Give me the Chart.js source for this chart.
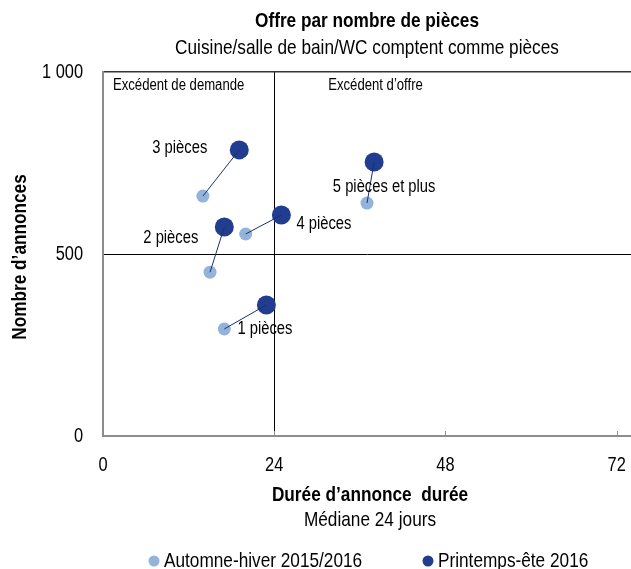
<!DOCTYPE html>
<html>
<head>
<meta charset="utf-8">
<script src="https://cdn.jsdelivr.net/npm/chart.js@4.4.1/dist/chart.umd.min.js"></script>
<style>
  html, body { margin: 0; padding: 0; background: #fff; overflow: hidden; }
  canvas { display: block; }
</style>
</head>
<body>
<canvas id="roomsChart" width="631" height="569"></canvas>
<script>
// data
const categories = ['1 pièces', '2 pièces', '3 pièces', '4 pièces', '5 pièces et plus'];
const autumnDays = [17.0, 15.0, 14.0, 20.0, 37.0];
const autumnAds = [294, 450, 659, 555, 640];
const springDays = [22.9, 17.0, 19.1, 25.0, 38.0];
const springAds = [360, 574, 786, 607, 753];
const xTicks = [0, 24, 48, 72];
const yTicks = [0, 500, 1000];
const yTickLabels = ['0', '500', '1 000'];
const seriesNames = ['Automne-hiver 2015/2016', 'Printemps-ête 2016'];
const medianDays = 24;
const medianAds = 500;

// no Arial Narrow here, so squeeze Liberation Sans (same metrics as Arial)
const FONT = '"Liberation Sans", Arial, sans-serif';
const NARROW = 0.82;
const lightBlue = '#93b3da';
const darkBlue = '#213d8f';

// label placement around the spring/summer point: [dx, dy, align]
const labelOffsets = [
    [-29, 24, 'left'],
    [-26, 11, 'right'],
    [-32, -2, 'right'],
    [15, 9, 'left'],
    [10, 25, 'center']
];

const toPoints = (xs, ys) => xs.map((v, i) => ({ x: v, y: ys[i] }));

const connectors = categories.map((c, i) => ({
    type: 'line',
    label: 'link-' + i,
    data: [{ x: autumnDays[i], y: autumnAds[i] }, { x: springDays[i], y: springAds[i] }],
    borderColor: '#1b2f6e',
    borderWidth: 1,
    pointRadius: 0,
    fill: false,
    order: 0
}));

function narrowText(ctx, text, x, y, font, align) {
    ctx.save();
    ctx.translate(x, y);
    ctx.scale(NARROW, 1);
    ctx.font = font;
    ctx.textAlign = align || 'left';
    ctx.fillText(text, 0, 0);
    ctx.restore();
}

const textPlugin = {
    id: 'texts',
    afterDraw(chart) {
        const { ctx, chartArea: a, scales: { x, y } } = chart;
        const cx = (a.left + a.right) / 2;
        ctx.save();
        ctx.fillStyle = '#000';
        ctx.textBaseline = 'middle';

        // titles
        narrowText(ctx, 'Offre par nombre de pièces', cx, 21, 'bold 21px ' + FONT, 'center');
        narrowText(ctx, 'Cuisine/salle de bain/WC comptent comme pièces', cx, 48, '21px ' + FONT, 'center');

        // tick labels
        xTicks.forEach(v => {
            narrowText(ctx, String(v), x.getPixelForValue(v), a.bottom + 29, '20px ' + FONT, 'center');
        });
        yTicks.forEach((v, i) => {
            narrowText(ctx, yTickLabels[i], a.left - 20, y.getPixelForValue(v), '20px ' + FONT, 'right');
        });

        // axis titles
        narrowText(ctx, 'Durée d\u2019annonce  durée', cx + 3, 495, 'bold 21px ' + FONT, 'center');
        narrowText(ctx, 'Médiane 24 jours', cx + 3, 520, '21px ' + FONT, 'center');
        ctx.save();
        ctx.translate(20, 257);
        ctx.rotate(-Math.PI / 2);
        narrowText(ctx, 'Nombre d\u2019annonces', 0, 0, 'bold 21px ' + FONT, 'center');
        ctx.restore();

        // quadrant labels
        narrowText(ctx, 'Excédent de demande', a.left + 10, 86, '16px ' + FONT, 'left');
        narrowText(ctx, 'Excédent d\u2019offre', x.getPixelForValue(medianDays) + 54, 86, '16px ' + FONT, 'left');

        // point labels
        categories.forEach((c, i) => {
            const [dx, dy, align] = labelOffsets[i];
            narrowText(ctx, c, x.getPixelForValue(springDays[i]) + dx, y.getPixelForValue(springAds[i]) + dy,
                '18px ' + FONT, align);
        });

        // small inward ticks on the x axis
        ctx.strokeStyle = '#8c8c8c';
        ctx.lineWidth = 1;
        xTicks.slice(1).forEach(v => {
            const px = Math.round(x.getPixelForValue(v)) + 0.5;
            ctx.beginPath();
            ctx.moveTo(px, a.bottom);
            ctx.lineTo(px, a.bottom - 5);
            ctx.stroke();
        });

        // legend
        const legendX = [154, 428];
        [lightBlue, darkBlue].forEach((col, i) => {
            ctx.fillStyle = col;
            ctx.beginPath();
            ctx.arc(legendX[i], 561, 5.5, 0, Math.PI * 2);
            ctx.fill();
            ctx.fillStyle = '#000';
            narrowText(ctx, seriesNames[i], legendX[i] + 10, 561, '21px ' + FONT, 'left');
        });
        ctx.restore();
    }
};

new Chart(document.getElementById('roomsChart'), {
    type: 'scatter',
    data: {
        datasets: [
            {
                label: seriesNames[0],
                data: toPoints(autumnDays, autumnAds),
                backgroundColor: lightBlue,
                borderWidth: 0,
                pointRadius: 6.5,
                order: 2
            },
            {
                label: seriesNames[1],
                data: toPoints(springDays, springAds),
                backgroundColor: darkBlue,
                borderWidth: 0,
                pointRadius: 9.5,
                order: 1
            },
            ...connectors
        ]
    },
    options: {
        responsive: false,
        animation: false,
        layout: { autoPadding: false, padding: { left: 3, right: 0, top: 72, bottom: 93 } },
        scales: {
            x: {
                type: 'linear',
                min: 0,
                max: 74,
                afterBuildTicks: s => { s.ticks = xTicks.map(v => ({ value: v })); },
                afterFit: s => { s.height = 40; },
                ticks: { display: false },
                grid: {
                    drawTicks: false,
                    color: c => c.tick && c.tick.value === medianDays ? '#000' : 'rgba(0,0,0,0)',
                    lineWidth: 1
                },
                border: { color: '#8c8c8c', width: 2 }
            },
            y: {
                type: 'linear',
                min: 0,
                max: 1000,
                afterBuildTicks: s => { s.ticks = yTicks.map(v => ({ value: v })); },
                afterFit: s => { s.width = 100; },
                ticks: { display: false },
                grid: {
                    drawTicks: false,
                    color: c => {
                        if (!c.tick) return 'rgba(0,0,0,0)';
                        if (c.tick.value === medianAds) return '#000';
                        if (c.tick.value === 1000) return '#333';
                        return 'rgba(0,0,0,0)';
                    },
                    lineWidth: c => c.tick && c.tick.value === 1000 ? 1.5 : 1
                },
                border: { color: '#8c8c8c', width: 2 }
            }
        },
        plugins: {
            legend: { display: false },
            title: { display: false },
            tooltip: { enabled: false }
        }
    },
    plugins: [textPlugin]
});
</script>
</body>
</html>
